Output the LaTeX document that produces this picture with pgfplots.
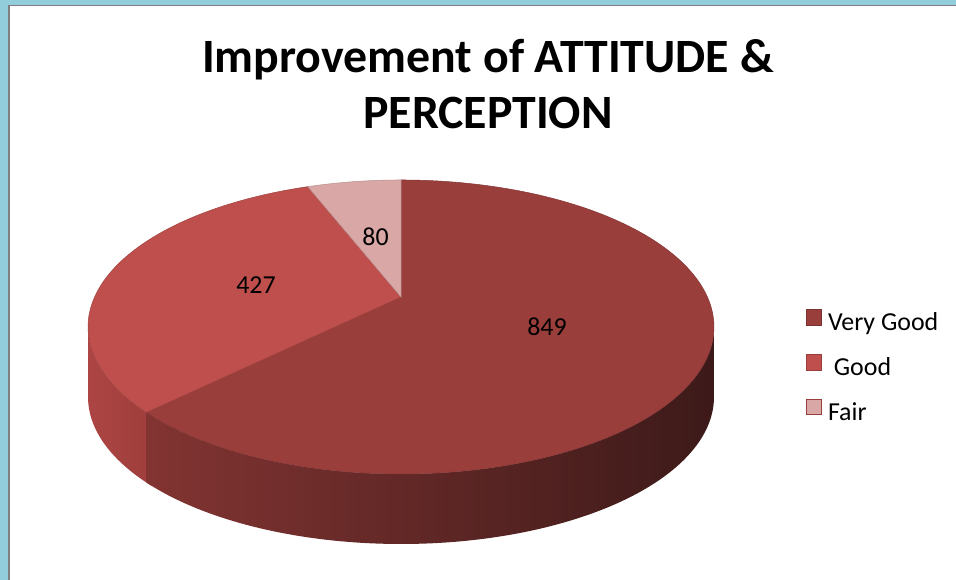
\documentclass[border=0pt]{standalone}
\usepackage{fontspec}
\setmainfont{Carlito}
\usepackage{pgfplots}
\pgfplotsset{compat=1.18}
\definecolor{vgtop}{HTML}{9A3E3C}
\definecolor{goodtop}{HTML}{BE4F4C}
\definecolor{fairtop}{HTML}{D8A7A6}
\definecolor{frameblue}{HTML}{92CDDC}
\definecolor{framegrey}{HTML}{7F7F7F}
% data
\def\vVG{849}
\def\vG{427}
\def\vF{80}
\pgfmathsetmacro{\tot}{\vVG+\vG+\vF}
\pgfmathsetmacro{\aVG}{90-360*(\vVG/\tot)}
\pgfmathsetmacro{\aB}{360+\aVG}
\pgfmathsetmacro{\aBx}{\aB+2}
\pgfmathsetmacro{\aGF}{90+360*(\vF/\tot)}
\begin{document}
\begin{tikzpicture}[declare function={
  den(\t)=1+0.204*sin(\t);
  px(\t)=401+306.4*cos(\t)/den(\t);
  py(\t)=297-140.9*sin(\t)/den(\t);
  sphi(\t,\a,\b)=(\t<=1)*(\a+(\b-\a)*\t)+(\t>1)*(\b-(\b-\a)*(\t-1));
  sdy(\t)=(\t>1)*70;
}]
\begin{axis}[width=956bp, height=580bp, scale only axis,
  xmin=0, xmax=956, ymin=0, ymax=580, y dir=reverse,
  hide axis, clip=false,
  legend style={at={(axis cs:806,309)}, anchor=north west, draw=none, fill=none,
    font=\fontsize{26}{30}\selectfont, row sep=17.5bp, inner sep=0pt,
    nodes={inner sep=0pt, text height=18bp, text depth=6bp},
    column sep=6bp},
  legend cell align=left,
  legend image code/.code={\draw[#1] (0bp,-0.5bp) rectangle (15bp,15bp);},
]
% background and frame
\fill[white] (axis cs:0,0) rectangle (axis cs:956,580);
\fill[frameblue] (axis cs:0,0) rectangle (axis cs:956,5);
\fill[frameblue] (axis cs:0,0) rectangle (axis cs:8,580);
\fill[framegrey] (axis cs:8,5) rectangle (axis cs:956,6.5);
\fill[framegrey] (axis cs:8,5) rectangle (axis cs:10,580);
% sides
\addplot[forget plot, draw=none, left color={rgb,255:red,172;green,69;blue,67}, right color={rgb,255:red,158;green,62;blue,60},
  domain=0:2, samples=151, variable=\t]
  ({px(sphi(\t,191.8,\aBx))},{py(sphi(\t,191.8,\aBx))+sdy(\t)}) -- cycle;
\addplot[forget plot, draw=none, left color={rgb,255:red,130;green,52;blue,50}, middle color={rgb,255:red,90;green,35;blue,34}, right color={rgb,255:red,60;green,26;blue,25},
  domain=0:2, samples=301, variable=\t]
  ({px(sphi(\t,\aB,348.2))},{py(sphi(\t,\aB,348.2))+sdy(\t)}) -- cycle;
% top faces
\addplot[forget plot, fill=vgtop, draw=vgtop!85!black, line width=0.5bp, domain=\aVG:90, samples=150, variable=\t]
  ({px(\t)},{py(\t)}) -- (axis cs:401,297) -- cycle;
\addplot[forget plot, fill=goodtop, draw=goodtop!85!black, line width=0.5bp, domain=\aGF:\aB, samples=100, variable=\t]
  ({px(\t)},{py(\t)}) -- (axis cs:401,297) -- cycle;
\addplot[forget plot, fill=fairtop, draw=fairtop!85!black, line width=0.5bp, domain=90:\aGF, samples=30, variable=\t]
  ({px(\t)},{py(\t)}) -- (axis cs:401,297) -- cycle;
% labels
\node[anchor=base, font=\fontsize{26}{30}\selectfont] at (axis cs:547,336) {849};
\node[anchor=base, font=\fontsize{26}{30}\selectfont] at (axis cs:256,294) {427};
\node[anchor=base, font=\fontsize{26}{30}\selectfont] at (axis cs:375.5,246) {80};
% title
\node[anchor=base, font=\bfseries\fontsize{48}{56}\selectfont] at (axis cs:488,73) {Improvement of ATTITUDE \&};
\node[anchor=base, font=\bfseries\fontsize{48}{56}\selectfont] at (axis cs:488,129) {PERCEPTION};
% legend
\addlegendimage{fill=vgtop, draw=vgtop!80!black, line width=0.8bp}
\addlegendentry{Very Good}
\addlegendimage{fill=goodtop, draw=goodtop!80!black, line width=0.8bp}
\addlegendentry{\ Good}
\addlegendimage{fill=fairtop, draw=goodtop!80!black, line width=0.8bp}
\addlegendentry{Fair}
\end{axis}
\end{tikzpicture}
\end{document}
